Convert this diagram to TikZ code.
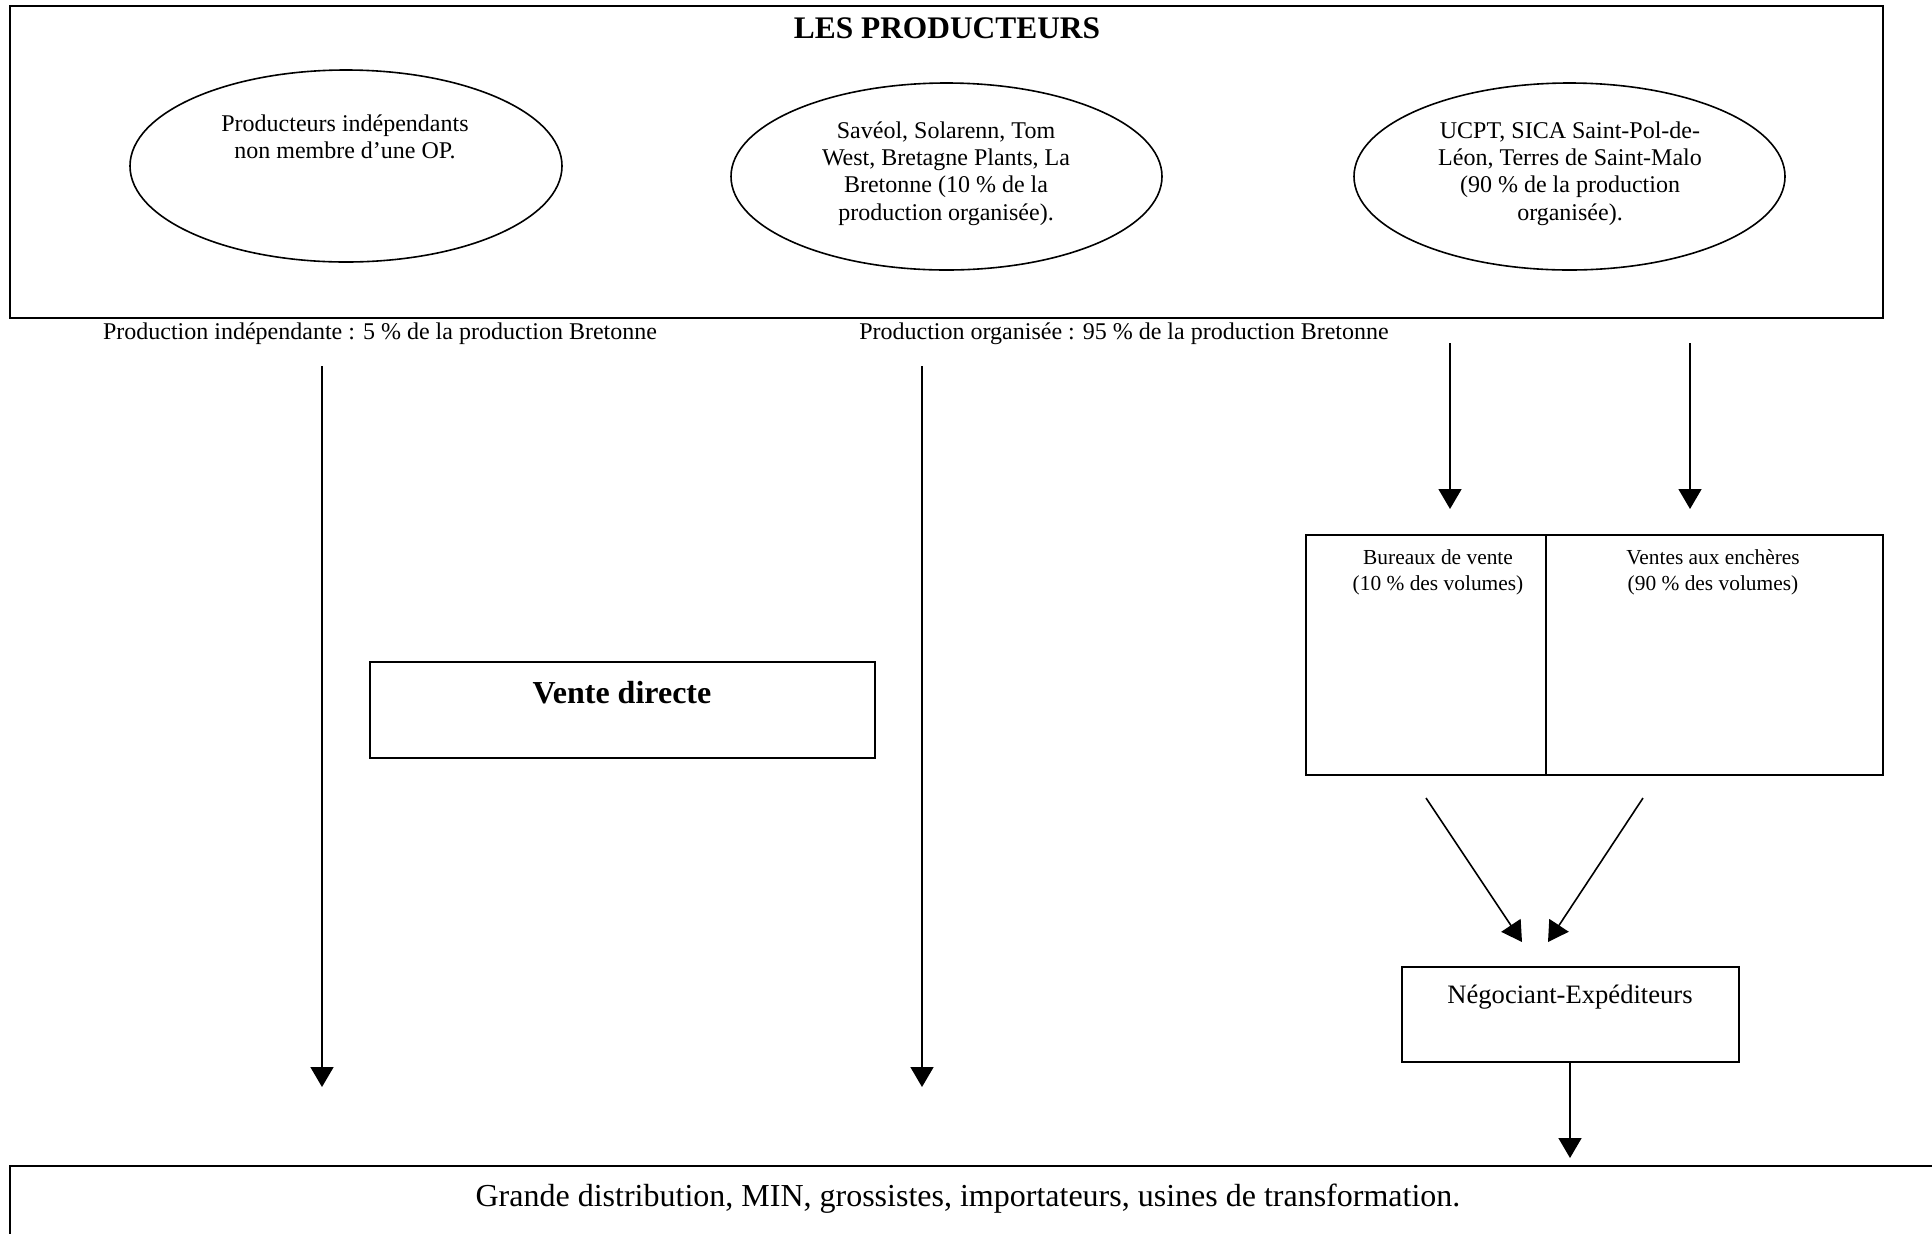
\documentclass[tikz,border=0pt]{standalone}
\usepackage{fontspec}
\setmainfont{Liberation Serif}
\usetikzlibrary{shapes.geometric,arrows.meta}
\tikzset{
  boxnode/.style={draw=black, line width=1pt, rectangle, inner sep=0pt},
  ovalnode/.style={draw=black, line width=0.8pt, ellipse, inner sep=0pt},
  txt/.style={align=center, inner sep=0pt, font=\fontsize{12}{13.6}\selectfont},
  smalltxt/.style={align=center, inner sep=0pt, font=\fontsize{10.7}{13}\selectfont},
  bigbold/.style={inner sep=0pt, font=\fontsize{16}{18}\selectfont\bfseries},
  flow/.style={draw=black, line width=0.8pt, -{Triangle[width=11.5pt,length=10pt]}}
}
\begin{document}
\begin{tikzpicture}[x=0.5pt,y=-0.5pt]
\useasboundingbox (0,0) rectangle (1932,1233);
\clip (0,0) rectangle (1932,1233);
% top box
\node[boxnode, minimum width=936.5pt, minimum height=156pt] (prod) at (946.5,162) {};
\node[bigbold, font=\fontsize{15.7}{18}\selectfont\bfseries] (title) at (947,28) {LES PRODUCTEURS};
% ellipses
\node[ovalnode, minimum width=216pt, minimum height=96pt] (e1) at (346,166) {};
\node[ovalnode, minimum width=215.5pt, minimum height=93.5pt] (e2) at (946.5,176.5) {};
\node[ovalnode, minimum width=215.5pt, minimum height=93.5pt] (e3) at (1569.5,176.5) {};
\node[txt] (e1t) at (345,137) {Producteurs indépendants\\non membre d’une OP.};
\node[txt] (e2t) at (946,173.5) {Savéol, Solarenn, Tom\\West, Bretagne Plants, La\\Bretonne (10 \% de la\\production organisée).};
\node[txt] (e3t) at (1570,173.5) {UCPT, SICA Saint-Pol-de-\\Léon, Terres de Saint-Malo\\(90 \% de la production\\organisée).};
% labels
\node[txt] (lab1) at (380,334) {Production indépendante : 5 \% de la production Bretonne};
\node[txt] (lab2) at (1124,334) {Production organisée : 95 \% de la production Bretonne};
% sales boxes
\node[boxnode, minimum width=120pt, minimum height=120pt] (bur) at (1426,655) {};
\node[boxnode, minimum width=168.5pt, minimum height=120pt] (enc) at (1714.5,655) {};
\node[smalltxt] (burt) at (1438,572) {Bureaux de vente\\(10 \% des volumes)};
\node[smalltxt] (enct) at (1713,572) {Ventes aux enchères\\(90 \% des volumes)};
% vente directe
\node[boxnode, minimum width=252.5pt, minimum height=48pt] (vd) at (622.5,710) {};
\node[bigbold] (vdt) at (622,693) {Vente directe};
% negociant
\node[boxnode, minimum width=168.5pt, minimum height=47.5pt] (neg) at (1570.5,1014.5) {};
\node[txt, font=\fontsize{13.3}{15}\selectfont] (negt) at (1570,997) {Négociant-Expéditeurs};
% bottom box
\node[boxnode, minimum width=965pt, minimum height=47pt] (dist) at (975,1213) {};
\node[inner sep=0pt, font=\fontsize{16}{18}\selectfont] (distt) at (968,1199) {Grande distribution, MIN, grossistes, importateurs, usines de transformation.};
% coordinates for free ends
\coordinate (s1) at (322,366); \coordinate (t1) at (322,1087);
\coordinate (s2) at (922,366); \coordinate (t2) at (922,1087);
\coordinate (s3) at (1450,343); \coordinate (t3) at (1450,509);
\coordinate (s4) at (1690,343); \coordinate (t4) at (1690,509);
\coordinate (s5) at (1426,798); \coordinate (t5) at (1522,942);
\coordinate (s6) at (1643,798); \coordinate (t6) at (1548,942);
\coordinate (t7) at (1570,1158);
\draw[flow] (s1) -- (t1);
\draw[flow] (s2) -- (t2);
\draw[flow] (s3) -- (t3);
\draw[flow] (s4) -- (t4);
\draw[flow] (s5) -- (t5);
\draw[flow] (s6) -- (t6);
\draw[flow] (neg.south -| t7) -- (t7);
\end{tikzpicture}
\end{document}
